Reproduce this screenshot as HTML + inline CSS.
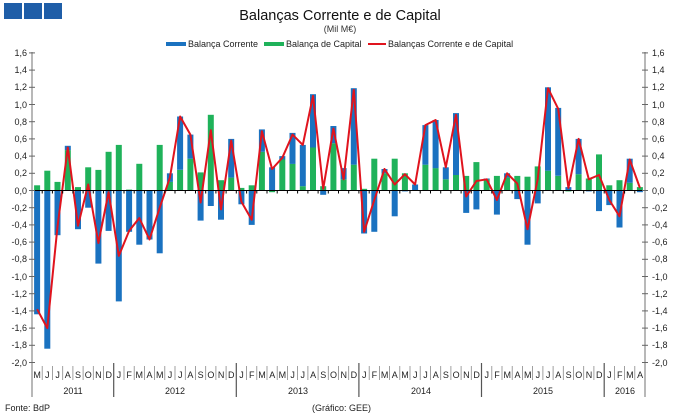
<!DOCTYPE html>
<html><head><meta charset="utf-8"><style>
body{margin:0;background:#fff;}
svg{display:block;font-family:"Liberation Sans",sans-serif;}
</style></head><body>
<svg id="s" width="680" height="418" viewBox="0 0 680 418" xmlns="http://www.w3.org/2000/svg">
<rect x="4" y="3" width="18" height="16" fill="#1f5ea8"/>
<rect x="24" y="3" width="18" height="16" fill="#1f5ea8"/>
<rect x="44" y="3" width="18" height="16" fill="#1f5ea8"/>
<text x="340" y="20" font-size="14.5" text-anchor="middle" fill="#111">Balanças Corrente e de Capital</text>
<text x="340" y="32" font-size="9" text-anchor="middle" fill="#333">(Mil M€)</text>
<rect x="166" y="42" width="20" height="4" fill="#1a72c0"/>
<text x="188" y="47" font-size="9" fill="#222">Balança Corrente</text>
<rect x="264" y="42" width="20" height="4" fill="#1fb25a"/>
<text x="286" y="47" font-size="9" fill="#222">Balança de Capital</text>
<rect x="368" y="43" width="18" height="2" fill="#e0141e"/>
<text x="388" y="47" font-size="9" fill="#222">Balanças Corrente e de Capital</text>
<g id="bars"></g>
<g font-size="9" fill="#222">
<text x="27" y="56" text-anchor="end">1,6</text><text x="27" y="73" text-anchor="end">1,4</text><text x="27" y="90" text-anchor="end">1,2</text><text x="27" y="108" text-anchor="end">1,0</text><text x="27" y="125" text-anchor="end">0,8</text><text x="27" y="142" text-anchor="end">0,6</text><text x="27" y="159" text-anchor="end">0,4</text><text x="27" y="176" text-anchor="end">0,2</text><text x="27" y="194" text-anchor="end">0,0</text><text x="27" y="211" text-anchor="end">-0,2</text><text x="27" y="228" text-anchor="end">-0,4</text><text x="27" y="245" text-anchor="end">-0,6</text><text x="27" y="262" text-anchor="end">-0,8</text><text x="27" y="280" text-anchor="end">-1,0</text><text x="27" y="297" text-anchor="end">-1,2</text><text x="27" y="314" text-anchor="end">-1,4</text><text x="27" y="331" text-anchor="end">-1,6</text><text x="27" y="348" text-anchor="end">-1,8</text><text x="27" y="366" text-anchor="end">-2,0</text>
<text x="652" y="56">1,6</text><text x="652" y="73">1,4</text><text x="652" y="90">1,2</text><text x="652" y="108">1,0</text><text x="652" y="125">0,8</text><text x="652" y="142">0,6</text><text x="652" y="159">0,4</text><text x="652" y="176">0,2</text><text x="652" y="194">0,0</text><text x="652" y="211">-0,2</text><text x="652" y="228">-0,4</text><text x="652" y="245">-0,6</text><text x="652" y="262">-0,8</text><text x="652" y="280">-1,0</text><text x="652" y="297">-1,2</text><text x="652" y="314">-1,4</text><text x="652" y="331">-1,6</text><text x="652" y="348">-1,8</text><text x="652" y="366">-2,0</text>
</g>
<g id="months" font-size="9" fill="#222" text-anchor="middle">
<text x="37.1" y="378">M</text><text x="47.3" y="378">J</text><text x="57.6" y="378">J</text><text x="67.8" y="378">A</text><text x="78.0" y="378">S</text><text x="88.2" y="378">O</text><text x="98.4" y="378">N</text><text x="108.7" y="378">D</text>
<text x="118.9" y="378">J</text><text x="129.1" y="378">F</text><text x="139.3" y="378">M</text><text x="149.5" y="378">A</text><text x="159.8" y="378">M</text><text x="170.0" y="378">J</text><text x="180.2" y="378">J</text><text x="190.4" y="378">A</text><text x="200.6" y="378">S</text><text x="210.9" y="378">O</text><text x="221.1" y="378">N</text><text x="231.3" y="378">D</text>
<text x="241.5" y="378">J</text><text x="251.7" y="378">F</text><text x="262.0" y="378">M</text><text x="272.2" y="378">A</text><text x="282.4" y="378">M</text><text x="292.6" y="378">J</text><text x="302.8" y="378">J</text><text x="313.1" y="378">A</text><text x="323.3" y="378">S</text><text x="333.5" y="378">O</text><text x="343.7" y="378">N</text><text x="353.9" y="378">D</text>
<text x="364.2" y="378">J</text><text x="374.4" y="378">F</text><text x="384.6" y="378">M</text><text x="394.8" y="378">A</text><text x="405.0" y="378">M</text><text x="415.3" y="378">J</text><text x="425.5" y="378">J</text><text x="435.7" y="378">A</text><text x="445.9" y="378">S</text><text x="456.1" y="378">O</text><text x="466.4" y="378">N</text><text x="476.6" y="378">D</text>
<text x="486.8" y="378">J</text><text x="497.0" y="378">F</text><text x="507.2" y="378">M</text><text x="517.5" y="378">A</text><text x="527.7" y="378">M</text><text x="537.9" y="378">J</text><text x="548.1" y="378">J</text><text x="558.3" y="378">A</text><text x="568.6" y="378">S</text><text x="578.8" y="378">O</text><text x="589.0" y="378">N</text><text x="599.2" y="378">D</text>
<text x="609.4" y="378">J</text><text x="619.7" y="378">F</text><text x="629.9" y="378">M</text><text x="640.1" y="378">A</text>
<text x="73" y="394">2011</text><text x="175" y="394">2012</text><text x="298" y="394">2013</text><text x="421" y="394">2014</text><text x="543" y="394">2015</text><text x="625" y="394">2016</text>
</g>
<text x="5" y="411" font-size="9" fill="#222">Fonte: BdP</text>
<text x="312" y="411" font-size="9" fill="#222">(Gráfico: GEE)</text>
</svg>
<script>
var cur=[-1.44,-1.84,-0.52,0.05,-0.45,-0.2,-0.85,-0.47,-1.29,-0.48,-0.63,-0.57,-0.73,0.1,0.62,0.28,-0.35,-0.18,-0.34,0.45,-0.16,-0.4,0.26,0.27,0.04,0.36,0.48,0.62,-0.05,0.2,0.13,0.89,-0.5,-0.48,0.05,-0.3,-0.01,0.07,0.46,0.56,0.14,0.72,-0.26,-0.22,0.01,-0.28,0.05,-0.1,-0.63,-0.15,0.97,0.79,0.04,0.41,-0.01,-0.24,-0.17,-0.43,0.28,-0.02];
var cap=[0.06,0.23,0.1,0.47,0.04,0.27,0.24,0.45,0.53,0.01,0.31,0,0.53,0.1,0.24,0.37,0.21,0.88,0.12,0.15,0.03,0.06,0.45,-0.02,0.36,0.31,0.05,0.5,0.05,0.55,0.13,0.3,0.02,0.37,0.2,0.37,0.2,0,0.3,0.26,0.13,0.18,0.17,0.33,0.13,0.17,0.15,0.17,0.16,0.28,0.23,0.17,-0.01,0.19,0.14,0.42,0.06,0.12,0.09,0.04];
var line=[-1.38,-1.6,-0.42,0.5,-0.41,0.07,-0.61,-0.02,-0.76,-0.47,-0.32,-0.57,-0.2,0.15,0.86,0.65,-0.14,0.7,-0.22,0.58,-0.13,-0.34,0.69,0.25,0.38,0.65,0.53,1.1,0.02,0.72,0.13,1.17,-0.48,-0.11,0.25,0.07,0.19,0.07,0.76,0.82,0.27,0.88,-0.07,0.11,0.13,-0.11,0.2,0.08,-0.45,0.13,1.19,0.95,0.03,0.6,0.13,0.18,-0.11,-0.3,0.36,0.03];
var Y=function(v){return 190.5-v*86;},X=function(i){return 32+10.217*(i+0.5);};
var h='',bw=6;
for(var i=0;i<60;i++){var x=X(i)-bw/2,c=cur[i],k=cap[i];
 var pos=0,neg=0;
 function seg(v,col){var a,b;if(v>=0){a=pos;b=pos+v;pos=b;}else{a=neg;b=neg+v;neg=b;}
  var y1=Y(Math.max(a,b)),y2=Y(Math.min(a,b));h+='<rect x="'+x.toFixed(1)+'" y="'+y1.toFixed(1)+'" width="'+bw+'" height="'+(y2-y1).toFixed(1)+'" fill="'+col+'"/>';}
 seg(k,'#1fb25a');seg(c,'#1a72c0');}
var p='';for(i=0;i<60;i++)p+=(i?'L':'M')+X(i).toFixed(1)+' '+Y(line[i]).toFixed(1);
h+='<path d="'+p+'" fill="none" stroke="#e0141e" stroke-width="2" stroke-linejoin="round"/>';
h+='<line x1="32" y1="190.5" x2="645" y2="190.5" stroke="#000" stroke-width="1"/>';
for(i=0;i<=60;i++){var xx=(32+10.217*i).toFixed(1);h+='<line x1="'+xx+'" y1="190.5" x2="'+xx+'" y2="193.5" stroke="#000"/>';}
h+='<line x1="32" y1="52" x2="32" y2="397" stroke="#888" stroke-width="1.2"/><line x1="645" y1="52" x2="645" y2="397" stroke="#888" stroke-width="1.2"/>';
for(var t=0;t<=18;t++){var yy=(Y(1.6-t*0.2)).toFixed(1);h+='<line x1="29" y1="'+yy+'" x2="35" y2="'+yy+'" stroke="#666"/><line x1="642" y1="'+yy+'" x2="648" y2="'+yy+'" stroke="#666"/>';}
for(i=1;i<60;i++){var xx=(32+10.217*i).toFixed(1);var yr=((i+4)%12==0);
 h+='<line x1="'+xx+'" y1="'+(yr?363:366)+'" x2="'+xx+'" y2="'+(yr?397:380)+'" stroke="'+(yr?'#555':'#888')+'" stroke-width="'+(yr?1.2:0.8)+'"/>';}
document.getElementById('bars').innerHTML=h;
</script>
</body></html>
